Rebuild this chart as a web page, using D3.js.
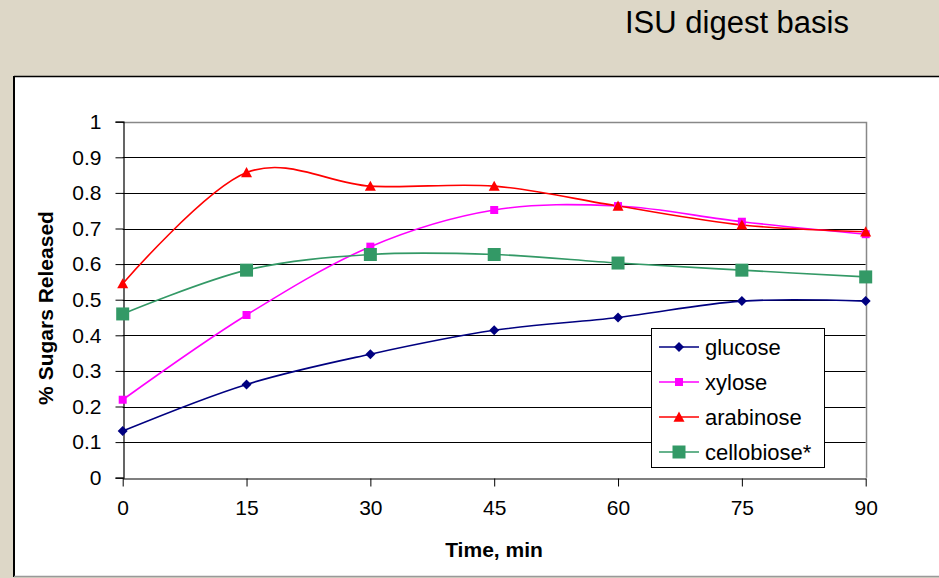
<!DOCTYPE html>
<html><head><meta charset="utf-8">
<script src="https://cdn.jsdelivr.net/npm/d3@7"></script>
<style>body{margin:0;background:#DDD7C7;}svg{display:block;font-family:"Liberation Sans",Arial,sans-serif;}</style>
</head><body><svg id="c" width="939" height="578"></svg>
<script>
const times = [0, 15, 30, 45, 60, 75, 90];
const glucose = [0.131, 0.262, 0.347, 0.414, 0.450, 0.496, 0.496];
const xylose = [0.219, 0.457, 0.649, 0.752, 0.763, 0.719, 0.684];
const arabinose = [0.545, 0.857, 0.819, 0.819, 0.763, 0.710, 0.691];
const cellobiose = [0.460, 0.583, 0.627, 0.627, 0.603, 0.583, 0.564];
const seriesNames = ["glucose", "xylose", "arabinose", "cellobiose*"];
const seriesColors = ["#000080", "#FF00FF", "#FF0000", "#339966"];
const seriesShapes = ["diamond", "square", "triangle", "bigsquare"];
const yTicks = [0, 0.1, 0.2, 0.3, 0.4, 0.5, 0.6, 0.7, 0.8, 0.9, 1];
const xTicks = [0, 15, 30, 45, 60, 75, 90];
const title = "ISU digest basis";
const xTitle = "Time, min";
const yTitle = "% Sugars Released";

const seriesVals = [glucose, xylose, arabinose, cellobiose];
const svg = d3.select("#c");

// background & panel
svg.append("rect").attr("x",0).attr("y",0).attr("width",939).attr("height",578).attr("fill","#DDD7C7");
svg.append("rect").attr("x",14).attr("y",76).attr("width",930).attr("height",500).attr("fill","#fff");
svg.append("line").attr("x1",14).attr("x2",939).attr("y1",76.5).attr("y2",76.5).attr("stroke","#000").attr("stroke-width",1.5);
svg.append("line").attr("x1",14).attr("x2",14).attr("y1",76).attr("y2",577).attr("stroke","#000").attr("stroke-width",2);
svg.append("line").attr("x1",14).attr("x2",939).attr("y1",576.5).attr("y2",576.5).attr("stroke","#999").attr("stroke-width",1.5);

svg.append("text").attr("x",737).attr("y",33).attr("text-anchor","middle")
  .attr("font-size",31).attr("fill","#000").text(title);

const x = d3.scaleLinear().domain([0,90]).range([122.7,865.7]);
const y = d3.scaleLinear().domain([0,1]).range([477.7,121.7]);

// gridlines
svg.append("g").selectAll("line").data(yTicks.filter(d=>d>0 && d<1)).join("line")
  .attr("x1",x(0)).attr("x2",x(90)).attr("y1",d=>Math.round(y(d))+0.5).attr("y2",d=>Math.round(y(d))+0.5)
  .attr("stroke","#000").attr("stroke-width",1);
// plot border top/right grey
svg.append("path").attr("d",`M${x(0)},${Math.round(y(1))+0.5}H${Math.round(x(90))+0.5}V${y(0)}`)
  .attr("fill","none").attr("stroke","#888").attr("stroke-width",1.5);

// axes
const yAxis = d3.axisLeft(y).tickValues(yTicks).tickSize(8).tickPadding(14).tickFormat(d3.format("~g"));
const gy = svg.append("g").attr("transform",`translate(${Math.round(x(0))+0.5},0)`).call(yAxis);
gy.select(".domain").attr("stroke","#000").attr("stroke-width",1.2);
gy.selectAll(".tick line").attr("stroke","#000");
gy.selectAll(".tick text").attr("font-size",21).attr("fill","#000").attr("font-family","Liberation Sans, Arial, sans-serif");

const xAxis = d3.axisBottom(x).tickValues(xTicks).tickSize(8).tickPadding(14).tickSizeOuter(0);
const gx = svg.append("g").attr("transform",`translate(0,${Math.round(y(0))+0.5})`).call(xAxis);
gx.select(".domain").attr("stroke","#000").attr("stroke-width",1.2);
gx.selectAll(".tick line").attr("stroke","#000");
gx.selectAll(".tick text").attr("font-size",21).attr("fill","#000").attr("font-family","Liberation Sans, Arial, sans-serif");

svg.append("text").attr("x",494).attr("y",557).attr("text-anchor","middle")
  .attr("font-size",21).attr("font-weight","bold").text(xTitle);
svg.append("text").attr("transform","translate(53,308) rotate(-90)").attr("text-anchor","middle")
  .attr("font-size",21).attr("font-weight","bold").text(yTitle);

function markerPath(shape, cx, cy){
  if(shape==="diamond"){const r=5;return `M${cx},${cy-r}L${cx+r},${cy}L${cx},${cy+r}L${cx-r},${cy}Z`;}
  if(shape==="square"){const r=4;return `M${cx-r},${cy-r}h${2*r}v${2*r}h${-2*r}Z`;}
  if(shape==="bigsquare"){const r=6.5;return `M${cx-r},${cy-r}h${2*r}v${2*r}h${-2*r}Z`;}
  if(shape==="triangle"){const r=5.5;return `M${cx},${cy-r}L${cx+r},${cy+r*0.85}L${cx-r},${cy+r*0.85}Z`;}
}

const line = d3.line().x((d,i)=>x(times[i])).y(d=>y(d)).curve(d3.curveCardinal.tension(0));
seriesVals.forEach((vals,si)=>{
  svg.append("path").attr("d",line(vals)).attr("fill","none")
    .attr("stroke",seriesColors[si]).attr("stroke-width",1.6);
});
seriesVals.forEach((vals,si)=>{
  svg.append("g").selectAll("path").data(vals).join("path")
    .attr("d",(d,i)=>markerPath(seriesShapes[si], x(times[i]), y(d)))
    .attr("fill",seriesColors[si]);
});

// legend
const lg = svg.append("g");
lg.append("rect").attr("x",651.5).attr("y",328.5).attr("width",173).attr("height",139)
  .attr("fill","#fff").attr("stroke","#000").attr("stroke-width",1);
seriesNames.forEach((n,i)=>{
  const cy = 347 + i*35;
  lg.append("line").attr("x1",659).attr("x2",699).attr("y1",cy).attr("y2",cy)
    .attr("stroke",seriesColors[i]).attr("stroke-width",1.6);
  lg.append("path").attr("d",markerPath(seriesShapes[i],679,cy)).attr("fill",seriesColors[i]);
  lg.append("text").attr("x",705).attr("y",cy+7.5).attr("font-size",22).attr("fill","#000").text(n);
});
</script></body></html>
